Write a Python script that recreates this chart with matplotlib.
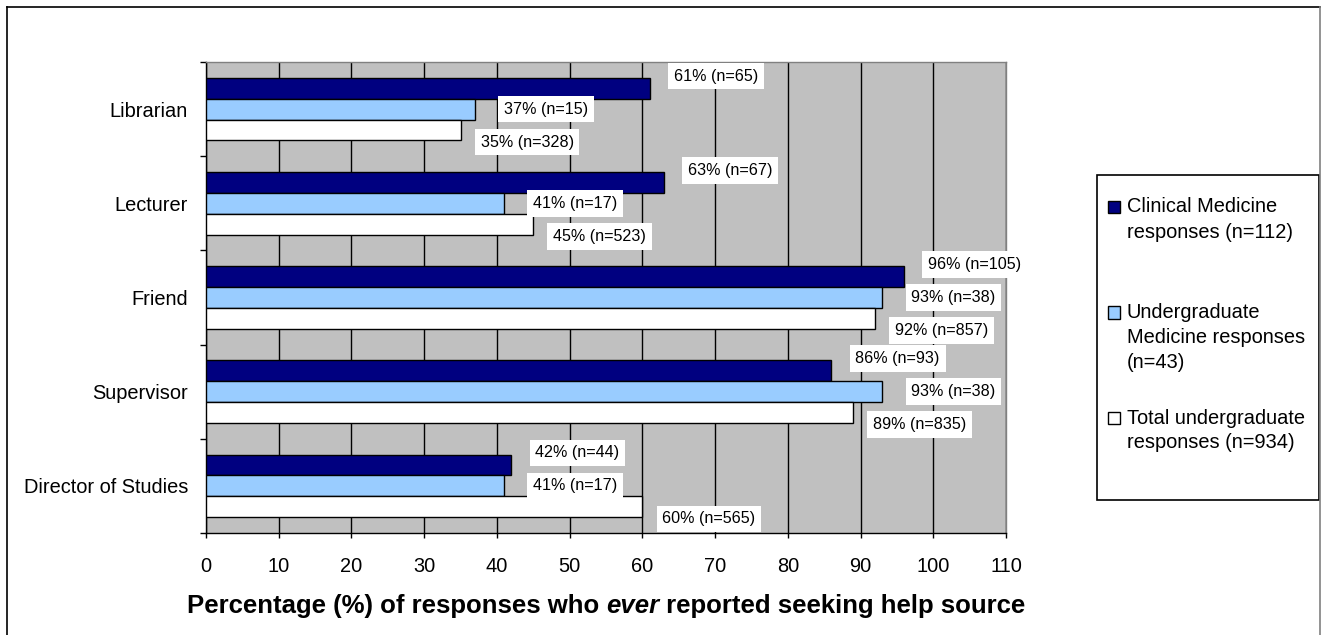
import matplotlib
matplotlib.use('Agg')
import matplotlib.pyplot as plt
from matplotlib.patches import Rectangle
from matplotlib.lines import Line2D
import numpy as np

plt.rcParams['font.family'] = ['Liberation Sans', 'DejaVu Sans']

# data
categories = ['Librarian', 'Lecturer', 'Friend', 'Supervisor', 'Director of Studies']
clinical = [61, 63, 96, 86, 42]
clinical_n = [65, 67, 105, 93, 44]
ug_med = [37, 41, 93, 93, 41]
ug_med_n = [15, 17, 38, 38, 17]
total_ug = [35, 45, 92, 89, 60]
total_ug_n = [328, 523, 857, 835, 565]
series_names = ['Clinical Medicine\nresponses (n=112)',
                'Undergraduate\nMedicine responses\n(n=43)',
                'Total undergraduate\nresponses (n=934)']
xticks = list(range(0, 111, 10))

W, H = 1321, 635
fig = plt.figure(figsize=(W / 100, H / 100), dpi=100)

def fx(px):
    return px / W

def fy(py):
    return 1 - py / H

PT = 0.72  # points per pixel at 100 dpi

ax = fig.add_axes([fx(206), fy(533), fx(1006) - fx(206), fy(62) - fy(533)])
ax.set_facecolor('#C0C0C0')

series = [clinical, ug_med, total_ug]
counts = [clinical_n, ug_med_n, total_ug_n]
colors = ['#000080', '#99CCFF', '#FFFFFF']
bar_h = 0.222
ypos = np.arange(len(categories))

# label offsets from the bar end (pixels): dx, dy (down is +)
lab_off = [(19, -12), (24, 0), (15, 12)]

for k in range(3):
    yy = ypos + (k - 1) * bar_h
    ax.barh(yy, series[k], height=bar_h, color=colors[k], edgecolor='black',
            linewidth=1, zorder=3)
    dx, dy = lab_off[k]
    for v, n, y in zip(series[k], counts[k], yy):
        ax.annotate('%d%% (n=%d)' % (v, n), xy=(v, y),
                    xytext=((dx + 5) * PT, -dy * PT), textcoords='offset points',
                    ha='left', va='center', fontsize=11.6, zorder=5,
                    bbox=dict(boxstyle='square,pad=0.36', fc='white', ec='none'))

ax.set_xlim(0, 110)
ax.set_ylim(len(categories) - 0.5, -0.5)
ax.set_xticks(xticks)
ax.set_xticklabels([str(t) for t in xticks])
ax.grid(axis='x', color='black', linewidth=1, zorder=1)
ax.set_axisbelow(True)

# category boundaries get tick marks, names sit in between
ax.set_yticks(np.arange(-0.5, len(categories), 1.0))
ax.set_yticklabels([])
ax.set_yticks(ypos, minor=True)
ax.set_yticklabels(categories, minor=True)
ax.tick_params(axis='y', which='major', direction='out', length=6 * PT, width=1)
ax.tick_params(axis='y', which='minor', length=0, pad=18 * PT, labelsize=14.4)
ax.tick_params(axis='x', direction='out', length=5 * PT, width=1, pad=19 * PT,
               labelsize=14.4)

for s in ['left', 'bottom']:
    ax.spines[s].set_color('black')
    ax.spines[s].set_linewidth(1)
for s in ['top', 'right']:
    ax.spines[s].set_color('#808080')
    ax.spines[s].set_linewidth(1)

# x label with italic "ever"
parts = [('Percentage (%) of responses who ', 'normal'),
         ('ever', 'italic'),
         (' reported seeking help source', 'normal')]
renderer = fig.canvas.get_renderer()
texts = []
for s, st in parts:
    t = fig.text(0, fy(606), s, fontsize=18.5, fontweight='bold', fontstyle=st,
                 ha='left', va='center')
    texts.append(t)
widths = [t.get_window_extent(renderer).width for t in texts]
x0 = 606 - sum(widths) / 2
for t, w in zip(texts, widths):
    t.set_x(fx(x0))
    x0 += w

# outer frame
fig.add_artist(Line2D([fx(7), fx(7)], [fy(7), fy(640)], color='black', lw=1.2))
fig.add_artist(Line2D([fx(7), fx(1320)], [fy(7), fy(7)], color='black', lw=1.2))
fig.add_artist(Line2D([fx(1320), fx(1320)], [fy(7), fy(640)], color='#808080', lw=1.2))

# legend box drawn by hand
fig.add_artist(Rectangle((fx(1097), fy(500)), fx(1319) - fx(1097), fy(175) - fy(500),
                         fc='white', ec='black', lw=1.2))
first_line = 207
for k, name in enumerate(series_names):
    y0 = first_line + k * 105.5
    fig.add_artist(Rectangle((fx(1108), fy(y0 + 6)), fx(12), 12 / H,
                             fc=colors[k], ec='black', lw=1))
    for j, line in enumerate(name.split('\n')):
        fig.text(fx(1127), fy(y0 + j * 25), line, fontsize=14.4,
                 ha='left', va='center')

fig.savefig('out.png', dpi=100, facecolor='white')
